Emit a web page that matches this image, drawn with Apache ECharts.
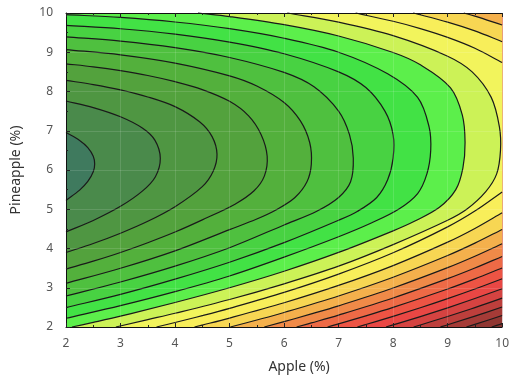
<!DOCTYPE html>
<html>
<head>
<meta charset="utf-8">
<script src="https://cdn.jsdelivr.net/npm/echarts@6/dist/echarts.min.js"></script>
<style>
  html, body { margin: 0; padding: 0; background: #ffffff; }
  #chart { width: 512px; height: 379px; }
</style>
</head>
<body>
<div id="chart"></div>
<script>
// Axis ticks (Apple % on x, Pineapple % on y)
const xTicks = [2, 3, 4, 5, 6, 7, 8, 9, 10];
const yTicks = [2, 3, 4, 5, 6, 7, 8, 9, 10];

// Contour lines of the response surface, innermost level first.
// Each contour is a list of pieces; each piece is a list of [apple, pineapple] points.
const c01 = [[[2,6.955],[2.25,6.754],[2.4,6.571],[2.5,6.35],[2.526,6.156],[2.5,5.955],[2.4,5.709],[2.25,5.488],[2,5.225]]];
const c02 = [[[2,7.757],[2.5,7.591],[3,7.356],[3.4,7.069],[3.63,6.762],[3.73,6.3],[3.64,5.83],[3.4,5.461],[3,5.074],[2.5,4.714],[2,4.423]]];
const c03 = [[[2,8.283],[2.5,8.177],[3,8.04],[3.5,7.861],[4,7.614],[4.45,7.228],[4.68,6.85],[4.77,6.4],[4.7,5.97],[4.5,5.577],[4,5.066],[3.5,4.694],[3,4.39],[2.5,4.127],[2,3.897]]];
const c04 = [[[2,8.705],[2.5,8.629],[3,8.531],[3.5,8.408],[4,8.251],[4.5,8.049],[5,7.75],[5.35,7.38],[5.58,6.9],[5.69,6.35],[5.64,5.85],[5.45,5.47],[5.1,5.13],[4.5,4.73],[4,4.42],[3.5,4.148],[3,3.899],[2.5,3.677],[2,3.475]]];
const c05 = [[[2,9.068],[3,8.934],[4,8.724],[5,8.399],[5.5,8.14],[6,7.72],[6.3,7.25],[6.47,6.7],[6.5,6.15],[6.42,5.7],[6.2,5.3],[5.85,4.98],[5.5,4.75],[5,4.48],[4,3.94],[3,3.496],[2,3.112]]];
const c06 = [[[2,9.391],[3,9.285],[4,9.117],[5,8.867],[6,8.486],[6.55,8.12],[7,7.5],[7.2,6.9],[7.27,6.3],[7.22,5.7],[7,5.3],[6.6,4.95],[6,4.6],[5,4.02],[4,3.55],[3,3.146],[2,2.789]]];
const c07 = [[[2,9.686],[3,9.599],[4,9.461],[5,9.258],[6,8.962],[7,8.5],[7.5,8.1],[7.85,7.5],[8,6.9],[8,6.3],[7.9,5.75],[7.7,5.3],[7.35,4.95],[7,4.72],[6,4.15],[5,3.65],[4,3.219],[3,2.831],[2,2.494]]];
const c08 = [[[2,9.958],[3,9.887],[4,9.771],[5,9.6],[6,9.357],[7,9],[7.9,8.45],[8.45,7.85],[8.66,7.1],[8.69,6.5],[8.62,5.9],[8.45,5.4],[8.1,5],[7.6,4.65],[7,4.3],[6,3.78],[5,3.3],[4,2.9],[3,2.543],[2,2.222]]];
const c09 = [[[4.42,10],[5,9.909],[6,9.702],[7,9.413],[8,8.994],[8.5,8.68],[9.05,8.1],[9.27,7.4],[9.32,6.7],[9.28,6.05],[9.15,5.5],[8.85,5.05],[8.4,4.7],[8,4.45],[7,3.9],[6,3.42],[5,3],[4,2.625],[3,2.277],[2.5,2.118],[2.109,2]]];
const c10 = [[[6.059,10],[7,9.766],[8,9.422],[9,8.9],[9.45,8.5],[9.8,7.85],[9.95,7.1],[9.97,6.5],[9.9,5.9],[9.7,5.45],[9.35,5],[9,4.72],[8,4.1],[7,3.55],[6,3.1],[5,2.7],[4,2.35],[3.5,2.189],[2.915,2]]];
const c11 = [[[7.313,10],[8,9.789],[8.5,9.603],[9,9.379],[9.5,9.102],[10,8.739]],
             [[10,5.441],[9.5,4.954],[9,4.551],[8,3.891],[7,3.348],[6,2.882],[5,2.475],[4.5,2.289],[4,2.114],[3.66,2]]];
const c12 = [[[8.368,10],[9,9.768],[9.5,9.544],[10,9.269]],
             [[10,4.911],[9.5,4.511],[9,4.162],[8,3.565],[7,3.059],[6,2.618],[5,2.228],[4.5,2.049],[4.357,2]]];
const c13 = [[[9.297,10],[9.5,9.919],[10,9.694]],
             [[10,4.486],[9.5,4.136],[9,3.821],[8,3.268],[7,2.791],[6,2.37],[5.5,2.178],[5.014,2]]];
const c14 = [[[10,4.122],[9.5,3.804],[9,3.513],[8,2.995],[7,2.54],[6.5,2.333],[6,2.136],[5.637,2]]];
const c15 = [[[10,3.798],[9.5,3.503],[9,3.231],[8,2.739],[7,2.304],[6.5,2.104],[6.23,2]]];
const c16 = [[[10,3.503],[9.5,3.226],[9,2.968],[8,2.499],[7.5,2.283],[7,2.079],[6.798,2]]];
const c17 = [[[10,3.23],[9.5,2.968],[9,2.722],[8.5,2.49],[8,2.271],[7.5,2.063],[7.344,2]]];
const c18 = [[[10,2.975],[9.5,2.725],[9,2.489],[8.5,2.266],[8,2.054],[7.87,2]]];
const c19 = [[[10,2.736],[9.5,2.495],[9,2.268],[8.5,2.052],[8.377,2]]];
const c20 = [[[10,2.509],[9.5,2.277],[9,2.056],[8.868,2]]];
const c21 = [[[10,2.292],[9.75,2.178],[9.5,2.068],[9.345,2]]];
const c22 = [[[10,2.085],[9.9,2.041],[9.809,2]]];

const contours = [c01,c02,c03,c04,c05,c06,c07,c08,c09,c10,c11,c12,c13,c14,c15,c16,c17,c18,c19,c20,c21,c22];

// Fill colour of each band: inside the first contour, between successive contours, beyond the last.
const bandColors = [
  '#3f7a5e','#4a8a4b','#4f9642','#53a23d','#53b03c','#4fc03f','#48d242','#42e245',
  '#5cef4b','#ccf257','#f2f45c','#f8ee5a','#f7d653','#f4b04c','#f08a48','#ee6a46',
  '#ed5444','#e94744','#d54341','#bd3f3c','#a53b37','#903632','#7e322e'
];

const X_MIN = xTicks[0], X_MAX = xTicks[xTicks.length - 1];
const Y_MIN = yTicks[0], Y_MAX = yTicks[yTicks.length - 1];
const W = X_MAX - X_MIN, H = Y_MAX - Y_MIN;
const EPS = 1e-6;

// Smooth curve through pixel points (cubic segments, chord-scaled tangents)
function curvePath(px, cmd) {
  const n = px.length;
  const tan = px.map((p, i) => {
    const a = px[Math.max(0, i - 1)], b = px[Math.min(n - 1, i + 1)];
    const dx = b[0] - a[0], dy = b[1] - a[1];
    const l = Math.hypot(dx, dy) || 1;
    return [dx / l, dy / l];
  });
  const f = v => v.toFixed(2);
  let d = cmd + f(px[0][0]) + ' ' + f(px[0][1]);
  for (let i = 0; i < n - 1; i++) {
    const p = px[i], q = px[i + 1];
    const s = Math.hypot(q[0] - p[0], q[1] - p[1]) / 3;
    d += ' C' + f(p[0] + tan[i][0] * s) + ' ' + f(p[1] + tan[i][1] * s) + ' ' +
         f(q[0] - tan[i + 1][0] * s) + ' ' + f(q[1] - tan[i + 1][1] * s) + ' ' +
         f(q[0]) + ' ' + f(q[1]);
  }
  return d;
}

// Position along the plot border, clockwise from the bottom-right corner
function borderPos(p) {
  const x = p[0], y = p[1];
  if (y <= Y_MIN + EPS) return X_MAX - x;
  if (x <= X_MIN + EPS) return W + (y - Y_MIN);
  if (y >= Y_MAX - EPS) return W + H + (x - X_MIN);
  return 2 * W + H + (Y_MAX - y);
}

const corners = [[W, [X_MIN, Y_MIN]], [W + H, [X_MIN, Y_MAX]], [2 * W + H, [X_MAX, Y_MAX]]];

// Region on the low side of a contour: the contour, then the border back round the left side
function fillPath(contour, api) {
  let d = '';
  contour.forEach((piece, i) => {
    d += (i ? ' ' : '') + curvePath(piece.map(p => api.coord(p)), i ? 'L' : 'M');
  });
  const first = contour[0][0];
  const lastPiece = contour[contour.length - 1];
  const last = lastPiece[lastPiece.length - 1];
  const tEnd = borderPos(last), tStart = borderPos(first);
  corners.forEach(([t, pt]) => {
    if (t > tEnd + EPS && t < tStart - EPS) {
      const c = api.coord(pt);
      d += ' L' + c[0].toFixed(2) + ' ' + c[1].toFixed(2);
    }
  });
  return d + ' Z';
}

function renderFills(params, api) {
  const tl = api.coord([X_MIN, Y_MAX]), br = api.coord([X_MAX, Y_MIN]);
  const children = [{
    type: 'rect',
    shape: { x: tl[0], y: tl[1], width: br[0] - tl[0], height: br[1] - tl[1] },
    style: { fill: bandColors[contours.length] }
  }];
  for (let k = contours.length - 1; k >= 0; k--) {
    children.push({
      type: 'path',
      shape: { pathData: fillPath(contours[k], api) },
      style: { fill: bandColors[k] }
    });
  }
  return { type: 'group', children };
}

function renderLines(params, api) {
  const children = [];
  contours.forEach(c => c.forEach(piece => {
    children.push({
      type: 'path',
      shape: { pathData: curvePath(piece.map(p => api.coord(p)), 'M') },
      style: { fill: null, stroke: '#1a1a1a', lineWidth: 1.2 }
    });
  }));
  return { type: 'group', children };
}

const FONT = 'Noto Sans, DejaVu Sans, sans-serif';
const faintGrid = { show: true, lineStyle: { color: 'rgba(255,255,255,0.13)', width: 1 } };

const chart = echarts.init(document.getElementById('chart'), null, { renderer: 'canvas' });
chart.setOption({
  animation: false,
  backgroundColor: '#ffffff',
  grid: { left: 66, right: 2, top: 13, bottom: 52, containLabel: false },
  xAxis: [{
    type: 'value', min: X_MIN, max: X_MAX, interval: 1, position: 'bottom', z: 10,
    axisLine: { show: true, lineStyle: { color: '#111111', width: 1 } },
    axisTick: { show: true, inside: true, length: 4, lineStyle: { color: '#222222' } },
    minorTick: { show: true, splitNumber: 2, length: 2, lineStyle: { color: '#222222' } },
    splitLine: faintGrid,
    axisLabel: { color: '#555555', fontSize: 12, margin: 11, fontFamily: FONT },
    name: 'Apple (%)', nameLocation: 'middle', nameGap: 33,
    nameTextStyle: { color: '#333333', fontSize: 14, fontFamily: FONT, padding: [0, 0, 0, 30] }
  }, {
    type: 'value', min: X_MIN, max: X_MAX, interval: 1, position: 'top', z: 10,
    axisLine: { show: true, lineStyle: { color: '#111111', width: 1 } },
    axisTick: { show: true, inside: true, length: 4, lineStyle: { color: '#222222' } },
    minorTick: { show: true, splitNumber: 2, length: 2, lineStyle: { color: '#222222' } },
    splitLine: { show: false },
    axisLabel: { show: false }
  }],
  yAxis: [{
    type: 'value', min: Y_MIN, max: Y_MAX, interval: 1, z: 10,
    axisLine: { show: true, lineStyle: { color: '#111111', width: 1 } },
    axisTick: { show: true, inside: true, length: 4, lineStyle: { color: '#222222' } },
    minorTick: { show: true, splitNumber: 2, length: 2, lineStyle: { color: '#222222' } },
    splitLine: faintGrid,
    axisLabel: { color: '#555555', fontSize: 12, margin: 13, fontFamily: FONT },
    name: 'Pineapple (%)', nameLocation: 'middle', nameGap: 43, nameRotate: 90,
    nameTextStyle: { color: '#333333', fontSize: 14, fontFamily: FONT }
  }],
  series: [{
    type: 'custom', coordinateSystem: 'cartesian2d', silent: true, z: 1,
    renderItem: renderFills, data: [[X_MIN, Y_MIN]]
  }, {
    type: 'custom', coordinateSystem: 'cartesian2d', silent: true, z: 2,
    renderItem: renderLines, data: [[X_MIN, Y_MIN]]
  }]
});
</script>
</body>
</html>
